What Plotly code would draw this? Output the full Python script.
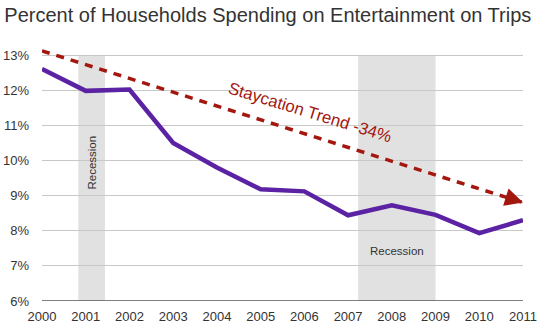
import plotly.graph_objects as go

years = [2000, 2001, 2002, 2003, 2004, 2005, 2006, 2007, 2008, 2009, 2010, 2011]
share = [12.6, 11.98, 12.02, 10.5, 9.8, 9.18, 9.12, 8.44, 8.72, 8.45, 7.93, 8.3]
trend_years = [2000, 2011]
trend_vals = [13.12, 8.8]
recessions = [(2000.83, 2001.44), (2007.23, 2009.0)]
ytick_vals = [6, 7, 8, 9, 10, 11, 12, 13]
ytick_text = ["6%", "7%", "8%", "9%", "10%", "11%", "12%", "13%"]

PURPLE = "#5b22a3"
RED = "#a3170e"
FONT = "Liberation Sans, Arial, sans-serif"

fig = go.Figure()

for x0, x1 in recessions:
    fig.add_shape(type="rect", xref="x", yref="y", x0=x0, x1=x1, y0=6, y1=13,
                  fillcolor="#e1e1e1", line_width=0, layer="below")

fig.add_trace(go.Scatter(x=trend_years, y=trend_vals, mode="lines",
                         line=dict(color=RED, width=3.5, dash="8px,7px"),
                         cliponaxis=False, hoverinfo="skip"))
fig.add_trace(go.Scatter(x=years, y=share, mode="lines",
                         line=dict(color=PURPLE, width=4.5),
                         cliponaxis=False))

# arrow head on trend
fig.add_annotation(x=trend_years[1], y=trend_vals[1], xref="x", yref="y",
                   ax=trend_years[1] - 0.25,
                   ay=trend_vals[0] + (trend_vals[1] - trend_vals[0]) * (10.75 / 11),
                   axref="x", ayref="y", showarrow=True, arrowhead=2,
                   arrowsize=1.2, arrowwidth=3, arrowcolor=RED, text="")

fig.add_annotation(x=2006.13, y=11.36, xref="x", yref="y", text="Staycation Trend -34%",
                   showarrow=False, textangle=17,
                   font=dict(family=FONT, size=16.8, color=RED))
fig.add_annotation(x=2001.135, y=9.93, xref="x", yref="y", text="Recession",
                   showarrow=False, textangle=-90,
                   font=dict(family=FONT, size=11.5, color="#333"))
fig.add_annotation(x=2008.12, y=7.42, xref="x", yref="y", text="Recession",
                   showarrow=False,
                   font=dict(family=FONT, size=11.5, color="#333"))

fig.update_layout(
    width=540, height=327,
    margin=dict(l=42, r=17, t=48, b=26),
    paper_bgcolor="white", plot_bgcolor="white",
    showlegend=False,
    title=dict(text="Percent of Households Spending on Entertainment on Trips",
               x=0.008, xanchor="left", y=0.955, yanchor="middle",
               font=dict(family=FONT, size=20, color="#333")),
    xaxis=dict(range=[2000, 2011], tickmode="array", tickvals=years, automargin=False,
               ticktext=[str(y) for y in years], showgrid=False, zeroline=False,
               showline=False, ticks="", ticklabelstandoff=6,
               tickfont=dict(family=FONT, size=13, color="#333")),
    yaxis=dict(range=[6, 13.2], tickmode="array", tickvals=ytick_vals, ticktext=ytick_text,
               automargin=False,
               showgrid=True, gridcolor="#c8c8c8", gridwidth=1, zeroline=False,
               showline=False, ticks="", ticklabelstandoff=12,
               tickfont=dict(family=FONT, size=13, color="#333")),
)

fig.add_shape(type="line", xref="x", yref="y", x0=2000, x1=2011, y0=6, y1=6,
              line=dict(color="#555", width=1.5))

fig.write_html("out.html")
